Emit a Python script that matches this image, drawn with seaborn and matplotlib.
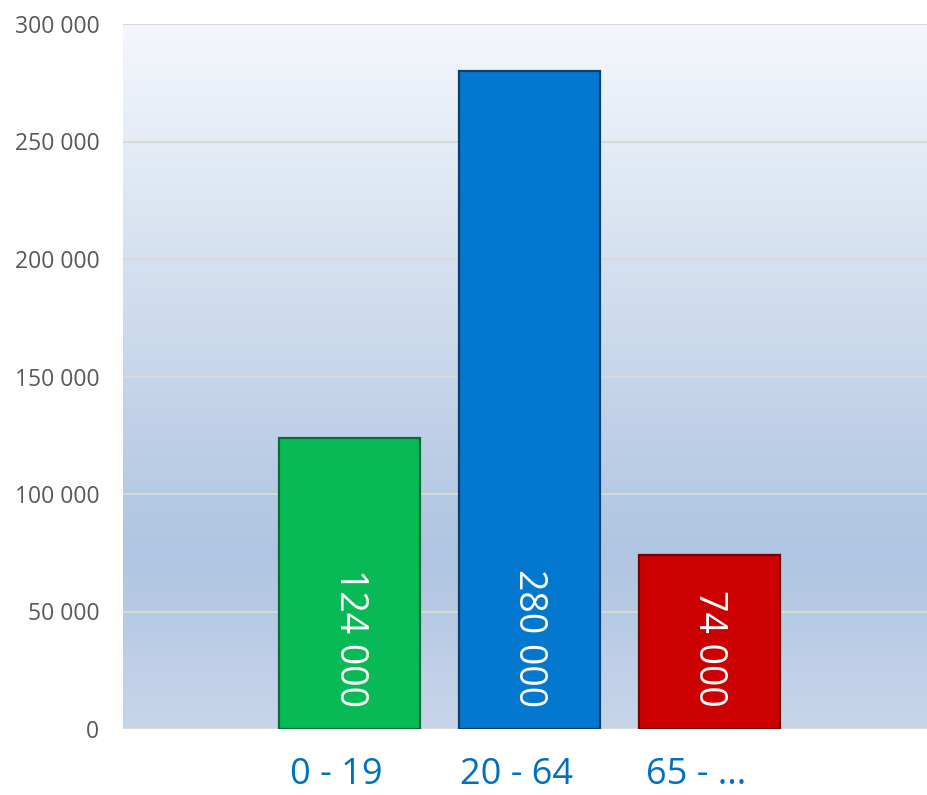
import matplotlib
matplotlib.use("Agg")
import matplotlib.pyplot as plt
import matplotlib.transforms as mtransforms
from matplotlib.colors import LinearSegmentedColormap
import numpy as np
import pandas as pd
import seaborn as sns

# data
age_groups = ["0 - 19", "20 - 64", "65 - ..."]
population = [124000, 280000, 74000]
bar_colors = ["#08BA55", "#0477CE", "#CC0000"]
edge_colors = ["#0A6B35", "#0B3F6E", "#6E0000"]
y_ticks = [0, 50000, 100000, 150000, 200000, 250000, 300000]

df = pd.DataFrame({"group": age_groups, "population": population})

sns.set_theme(style="white")
plt.rcParams["font.family"] = ["Open Sans", "DejaVu Sans"]

fig = plt.figure(figsize=(9.27, 7.95), dpi=100)
ax = fig.add_axes([123 / 927, 1 - 729 / 795, 804 / 927, 705 / 795])

# background gradient, light at the top, darkest near the lower quarter
grad_cmap = LinearSegmentedColormap.from_list(
    "bg", [(0.0, "#C7D5EA"), (0.25, "#AFC5E1"), (1.0, "#F4F7FC")])
grad = np.linspace(0, 1, 256).reshape(-1, 1)
ax.imshow(grad, cmap=grad_cmap, aspect="auto", origin="lower",
          extent=[0, 1, 0, 1], transform=ax.transAxes, zorder=0)

sns.barplot(data=df, x="group", y="population", hue="group",
            palette=bar_colors, saturation=1, width=0.78, legend=False,
            ax=ax, zorder=3)
for patch, ec in zip(ax.patches, edge_colors):
    patch.set_edgecolor(ec)
    patch.set_linewidth(1.6)

ax.set_xlim(-1.26, 3.21)
ax.set_ylim(0, 300000)
ax.set_yticks(y_ticks)
ax.set_yticklabels([f"{v:,}".replace(",", " ") for v in y_ticks])
for v in y_ticks:
    ax.axhline(v, color="#D9D9D9", lw=1.5, zorder=1)

for i, v in enumerate(population):
    ax.text(i, 9500, f"{v:,}".replace(",", " "), rotation=270,
            ha="center", va="bottom", color="white", fontsize=27, zorder=4)

ax.set_xlabel("")
ax.set_ylabel("")
for s in ax.spines.values():
    s.set_visible(False)
ax.tick_params(axis="y", length=0, pad=17, labelsize=16.5, labelcolor="#595959")
ax.tick_params(axis="x", length=0, pad=20, labelsize=26, labelcolor="#0070C0")
shift = mtransforms.ScaledTranslation(-0.13, 0, fig.dpi_scale_trans)
for lbl in ax.get_xticklabels():
    lbl.set_transform(lbl.get_transform() + shift)

fig.savefig("out.png", dpi=100, facecolor="white")
